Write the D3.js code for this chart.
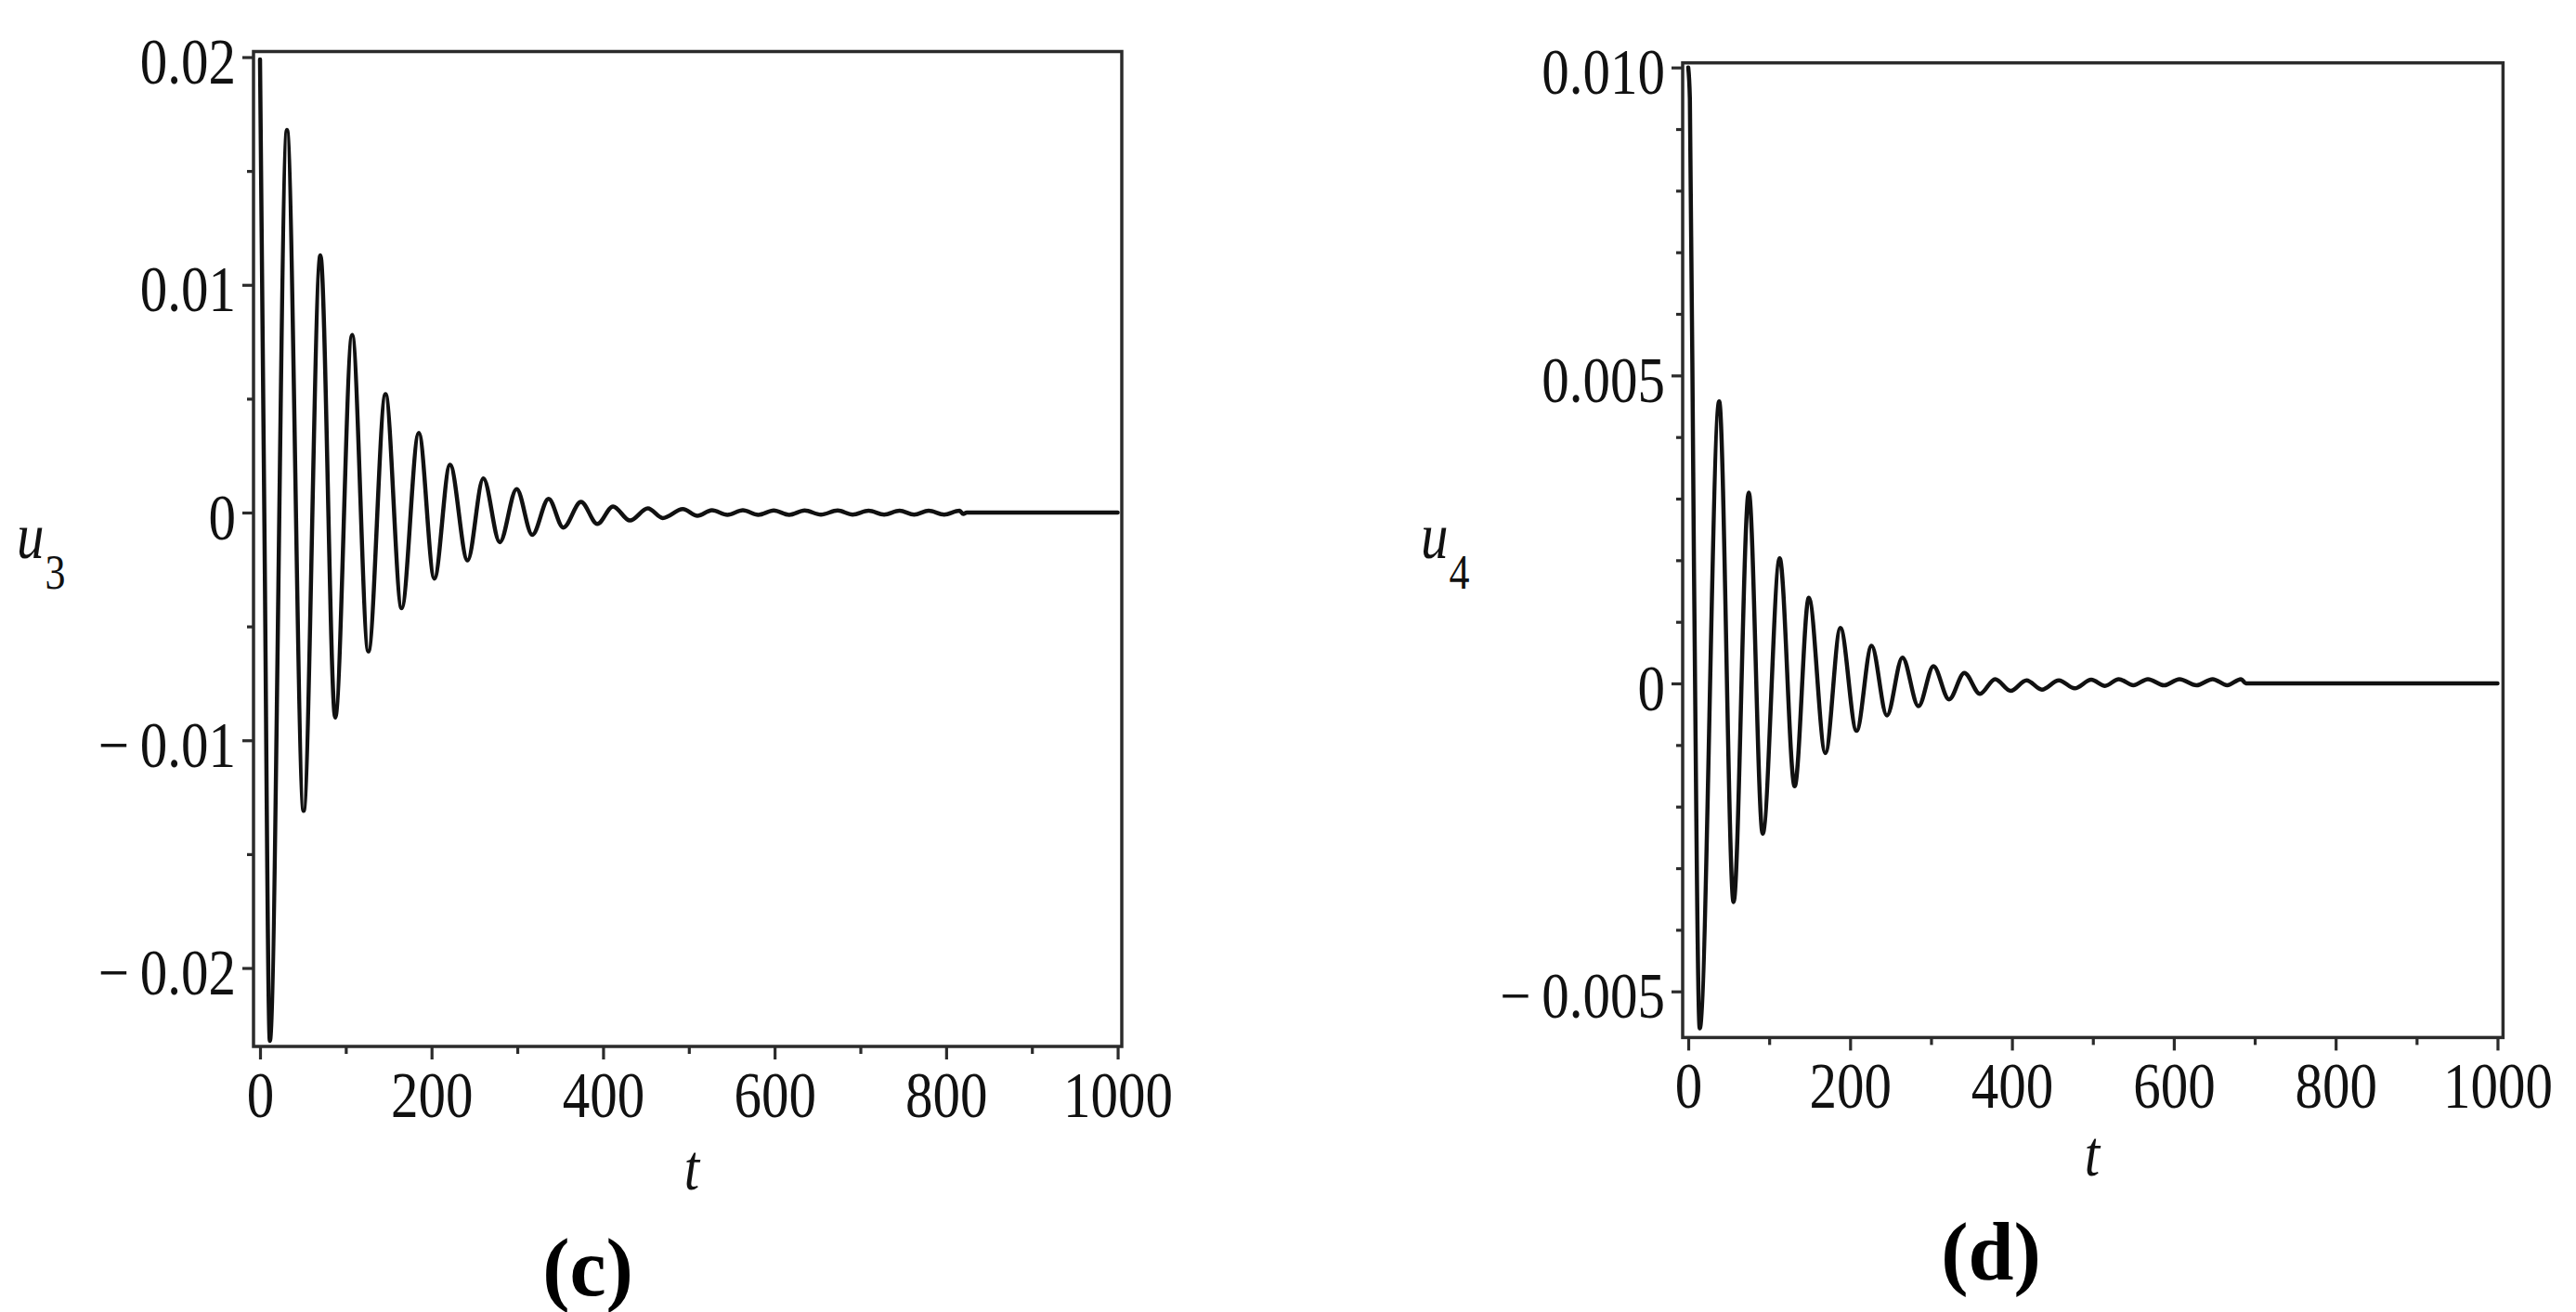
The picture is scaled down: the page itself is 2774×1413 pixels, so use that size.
<!DOCTYPE html>
<html>
<head>
<meta charset="utf-8">
<script src="https://cdn.jsdelivr.net/npm/d3@7"></script>
<style>
  html, body { margin: 0; padding: 0; background: #ffffff; }
  svg { display: block; }
</style>
</head>
<body>
<svg id="chart" width="2774" height="1413"></svg>
<script>
// ---------- Data ----------
// Panel (c): u3(t) — extrema of the damped oscillation
const c_t = [0, 5, 11.5, 31.4, 50.8, 70.4, 87.7, 107.4, 126.3, 146.3, 165.1, 185.1, 203.3,
  221.5, 242, 260.4, 279.6, 299.2, 317.5, 336.5, 353.6, 374.3, 393.3, 411.6, 431.3,
  452.2, 469.6, 493, 510, 527, 545, 563, 581, 599, 617, 635, 654, 673.5, 691, 709.6,
  727.7, 745.7, 762.7, 779.6, 797.7, 815.7, 820, 824, 1000];
const c_u = [0.0199, 0.0, -0.0232, 0.0168, -0.0131, 0.0113, -0.0090, 0.0078, -0.0061, 0.0052,
  -0.0042, 0.0035, -0.0029, 0.0021, -0.0021, 0.0015, -0.0013, 0.00103, -0.00098, 0.0006,
  -0.00066, 0.00047, -0.0005, 0.00027, -0.00035, 0.00018, -0.00024, 0.00015, -0.00014,
  0.0001, -0.0001, 0.0001, -0.0001, 0.00009, -0.0001, 0.00009, -0.00009, 0.00009, -0.00009,
  0.00008, -0.00009, 0.00008, -0.00009, 0.00008, -0.00009, 0.00008, -0.00006, 0, 0];

// Panel (d): u4(t)
const d_t = [0, 2, 7, 14.2, 38.2, 56, 74.8, 92, 113, 131.5, 149, 169.5, 188, 208, 226.5, 245.5,
  264.7, 284.5, 303, 322.3, 341.2, 360.5, 379.2, 398.5, 418, 437, 458, 477.6, 498, 515, 532,
  550, 568, 588, 607, 628, 648, 666, 683, 689, 1000];
const d_u = [0.0100, 0.0095, 0.0020, -0.0056, 0.00458, -0.00355, 0.0031, -0.00244, 0.00203,
  -0.00167, 0.00139, -0.00113, 0.0009, -0.00077, 0.00061, -0.00052, 0.00042, -0.00037,
  0.00028, -0.00026, 0.00017, -0.00017, 0.00007, -0.00012, 0.00005, -0.0001, 0.00005,
  -0.00008, 0.00006, -0.00004, 0.00007, -0.00003, 0.00007, -0.00003, 0.00007, -0.00003,
  0.00007, -0.00003, 0.00007, 0, 0];

// Tick values and labels
const xTicks = [0, 200, 400, 600, 800, 1000];
const xTickLabels = ["0", "200", "400", "600", "800", "1000"];
const xMinor = [100, 300, 500, 700, 900];

const cYTicks = [-0.02, -0.01, 0, 0.01, 0.02];
const cYTickLabels = ["\u2212\u20090.02", "\u2212\u20090.01", "0", "0.01", "0.02"];
const cYMinor = [-0.015, -0.005, 0.005, 0.015];

const dYTicks = [-0.005, 0, 0.005, 0.010];
const dYTickLabels = ["\u2212\u20090.005", "0", "0.005", "0.010"];
const dYMinor = [-0.004, -0.003, -0.002, -0.001, 0.001, 0.002, 0.003, 0.004,
  0.006, 0.007, 0.008, 0.009];

// ---------- Drawing ----------
const svg = d3.select("#chart");
const SERIF = "'Liberation Serif', 'Times New Roman', Times, serif";
const INK = "#2b2b2b";
const VS = 1.18; // vertical stretch of the original figure's text

function panel(cfg) {
  const x = d3.scaleLinear().domain(cfg.xDomain).range([cfg.left, cfg.right]);
  const y = d3.scaleLinear().domain(cfg.yDomain).range([cfg.bottom, cfg.top]);
  const g = svg.append("g");

  // clip
  const clipId = "clip-" + cfg.id;
  svg.append("defs").append("clipPath").attr("id", clipId)
    .append("rect")
    .attr("x", cfg.left).attr("y", cfg.top)
    .attr("width", cfg.right - cfg.left).attr("height", cfg.bottom - cfg.top);

  // curve
  const pts = cfg.t.map((tv, i) => [tv, cfg.u[i]]);
  const line = d3.line().x(d => x(d[0])).y(d => y(d[1])).curve(d3.curveMonotoneX);
  g.append("path")
    .datum(pts)
    .attr("clip-path", `url(#${clipId})`)
    .attr("d", line)
    .attr("fill", "none")
    .attr("stroke", "#111")
    .attr("stroke-width", 4.5)
    .attr("stroke-linejoin", "round")
    .attr("stroke-linecap", "round");

  // axes ticks
  function styleAxis(sel) {
    sel.select(".domain").remove();
    sel.selectAll(".tick line").attr("stroke", INK).attr("stroke-width", 3.2);
    sel.attr("font-family", SERIF).attr("font-size", 59).attr("fill", "#111");
  }
  const yMaj = g.append("g").attr("transform", `translate(${cfg.left},0)`)
    .call(d3.axisLeft(y).tickValues(cfg.yTicks).tickSize(12).tickPadding(7)
      .tickFormat((d, i) => cfg.yLabels[i]));
  styleAxis(yMaj);
  yMaj.selectAll(".tick text")
    .attr("fill", "#111")
    .attr("x", -(cfg.left - cfg.yLabelRight))
    .attr("dy", null)
    .attr("y", 28 / VS)
    .attr("transform", `scale(1,${VS})`);

  const yMin = g.append("g").attr("transform", `translate(${cfg.left},0)`)
    .call(d3.axisLeft(y).tickValues(cfg.yMinor).tickSize(7).tickFormat(""));
  styleAxis(yMin);

  const xMaj = g.append("g").attr("transform", `translate(0,${cfg.bottom})`)
    .call(d3.axisBottom(x).tickValues(xTicks).tickSize(14)
      .tickFormat((d, i) => xTickLabels[i]));
  styleAxis(xMaj);
  xMaj.selectAll(".tick text")
    .attr("fill", "#111")
    .attr("dy", null)
    .attr("y", 76 / VS)
    .attr("transform", `scale(1,${VS})`);

  const xMin = g.append("g").attr("transform", `translate(0,${cfg.bottom})`)
    .call(d3.axisBottom(x).tickValues(xMinor).tickSize(8).tickFormat(""));
  styleAxis(xMin);

  // frame
  g.append("rect")
    .attr("x", cfg.left).attr("y", cfg.top)
    .attr("width", cfg.right - cfg.left).attr("height", cfg.bottom - cfg.top)
    .attr("fill", "none").attr("stroke", INK).attr("stroke-width", 3.5);

  // y label u_n
  const yl = g.append("text")
    .attr("transform", `translate(${cfg.uPos[0]},${cfg.uPos[1]}) scale(1,${VS})`)
    .attr("font-family", SERIF).attr("fill", "#111");
  yl.append("tspan").attr("font-style", "italic").attr("font-size", 59).text("u");
  yl.append("tspan").attr("font-size", 44).attr("dy", 33 / VS).attr("dx", 1).text(cfg.sub);

  // x label t
  g.append("text")
    .attr("transform", `translate(${cfg.tPos[0]},${cfg.tPos[1]}) scale(1,${VS})`)
    .attr("text-anchor", "middle")
    .attr("font-family", SERIF).attr("font-style", "italic")
    .attr("font-size", 59).attr("fill", "#111")
    .text("t");

  // caption
  g.append("text")
    .attr("x", cfg.capPos[0]).attr("y", cfg.capPos[1])
    .attr("text-anchor", "middle")
    .attr("font-family", SERIF).attr("font-weight", "bold")
    .attr("font-size", 88).attr("fill", "#000")
    .text(cfg.caption);
}

panel({
  id: "c",
  left: 273, right: 1208, top: 55.5, bottom: 1127,
  xDomain: [-7.58, 1004.8], yDomain: [-0.023445, 0.020245],
  t: c_t, u: c_u,
  yTicks: cYTicks, yLabels: cYTickLabels, yMinor: cYMinor,
  yLabelRight: 254,
  uPos: [18, 601], sub: "3",
  tPos: [745, 1281],
  capPos: [633, 1395], caption: "(c)"
});

panel({
  id: "d",
  left: 1812, right: 2695.4, top: 67.7, bottom: 1117.4,
  xDomain: [-6.9, 1006.8], yDomain: [-0.005749, 0.010075],
  t: d_t, u: d_u,
  yTicks: dYTicks, yLabels: dYTickLabels, yMinor: dYMinor,
  yLabelRight: 1793,
  uPos: [1530, 601], sub: "4",
  tPos: [2253, 1266],
  capPos: [2144, 1378], caption: "(d)"
});
</script>
</body>
</html>
